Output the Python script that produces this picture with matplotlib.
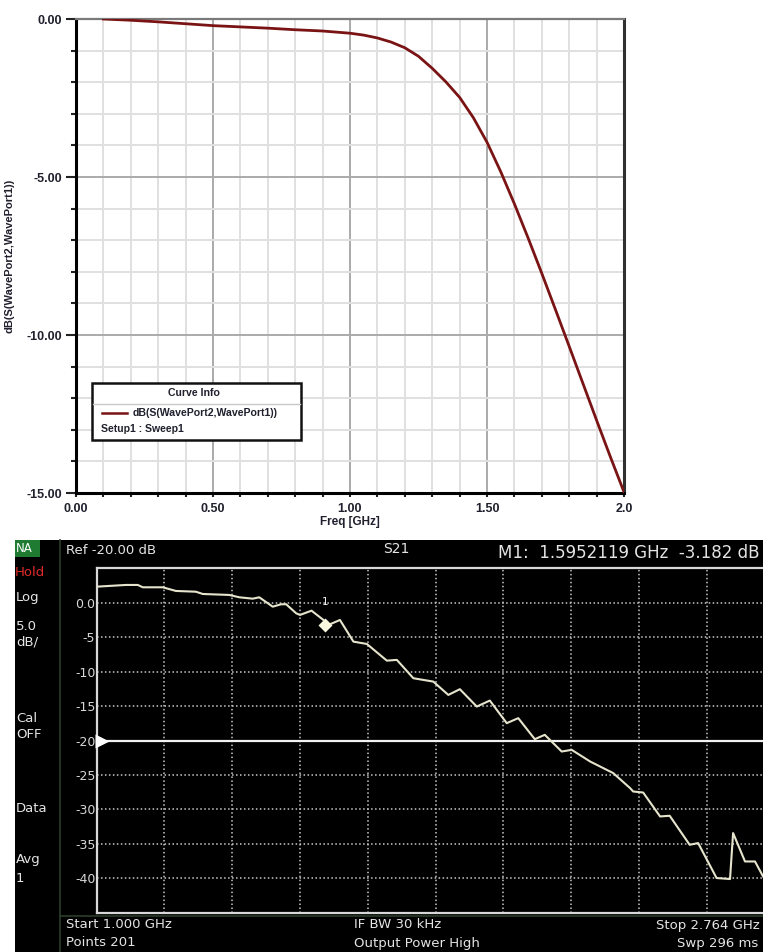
import matplotlib
matplotlib.use("Agg")
import matplotlib.pyplot as plt
import matplotlib.transforms as mtransforms
from matplotlib.patches import Rectangle
from matplotlib.lines import Line2D
import numpy as np

W, H = 763, 952

def fx(x):
    return x / W

def fy(y):
    return 1 - y / H

# simulated S21 (HFSS)
sim_freq = [0.10, 0.20, 0.30, 0.40, 0.50, 0.60, 0.70, 0.80, 0.90, 1.00,
            1.05, 1.10, 1.15, 1.20, 1.25, 1.30, 1.35, 1.40, 1.45, 1.50,
            1.55, 1.60, 1.65, 1.70, 1.75, 1.80, 1.85, 1.90, 1.95, 2.00]
sim_db = [0.00, -0.04, -0.09, -0.15, -0.21, -0.25, -0.29, -0.34, -0.38, -0.45,
          -0.51, -0.60, -0.73, -0.91, -1.18, -1.56, -1.99, -2.48, -3.12, -3.90,
          -4.83, -5.85, -6.93, -8.05, -9.20, -10.36, -11.53, -12.70, -13.85, -14.97]

# measured S21 (network analyzer)
meas_freq = [1.000, 1.076, 1.107, 1.120, 1.172, 1.206, 1.258, 1.276, 1.345, 1.371,
             1.406, 1.423, 1.458, 1.480, 1.493, 1.519, 1.529, 1.559, 1.590, 1.603,
             1.633, 1.668, 1.703, 1.755, 1.781, 1.824, 1.876, 1.915, 1.945, 1.989,
             2.023, 2.067, 2.097, 2.140, 2.166, 2.210, 2.236, 2.284, 2.344, 2.388,
             2.396, 2.422, 2.466, 2.491, 2.543, 2.565, 2.613, 2.648, 2.656, 2.687,
             2.713, 2.734]
meas_db = [2.32, 2.57, 2.57, 2.23, 2.23, 1.70, 1.59, 1.26, 1.12, 0.78,
           0.58, 0.78, -0.58, -0.23, -0.23, -1.54, -1.78, -1.16, -2.51, -3.23,
           -2.51, -5.65, -5.99, -8.41, -8.30, -10.96, -11.45, -13.38, -12.55, -15.07,
           -14.20, -17.48, -16.75, -19.80, -19.17, -21.59, -21.35, -23.04, -24.72, -26.90,
           -27.39, -27.54, -31.01, -30.91, -35.12, -34.87, -39.94, -40.09, -33.42, -37.54,
           -37.54, -39.71]

marker_freq = 1.5952119
marker_db = -3.182

sim_xticks = [0.0, 0.5, 1.0, 1.5, 2.0]
sim_xlabels = ["0.00", "0.50", "1.00", "1.50", "2.0"]
sim_yticks = [0, -5, -10, -15]

na_start, na_stop = 1.000, 2.764
na_yticks = [0, -5, -10, -15, -20, -25, -30, -35, -40]
na_ylabels = ["0.0", "-5", "-10", "-15", "-20", "-25", "-30", "-35", "-40"]

fig = plt.figure(figsize=(W / 100, H / 100), dpi=100)

# ---------------- top: simulation ----------------
hf = "Liberation Sans"
ink = "#20202e"
ax = fig.add_axes([fx(76), fy(493), (624 - 76) / W, (493 - 19) / H])
ax.plot(sim_freq, sim_db, color="#7a1414", lw=2.0, zorder=3)
ax.set_xlim(0, 2)
ax.set_ylim(-15, 0)
ax.set_xticks(sim_xticks)
ax.set_xticklabels(sim_xlabels)
ax.set_xticks(np.arange(0, 2.01, 0.1), minor=True)
ax.set_yticks(sim_yticks)
ax.set_yticklabels(["%.2f" % v for v in sim_yticks])
ax.set_yticks(np.arange(-15, 0.1, 1), minor=True)
ax.set_axisbelow(True)
ax.grid(which="minor", color="#e0e0e0", lw=1.4)
ax.grid(which="major", color="#aaaaaa", lw=1.4)
ax.tick_params(axis="y", which="major", length=7, width=1.5, pad=3, color="#222222")
ax.tick_params(axis="y", which="minor", length=3.5, width=1.5, color="#222222")
ax.tick_params(axis="x", which="both", length=3, width=1.5, pad=4, color="#222222")
for lab in ax.get_xticklabels() + ax.get_yticklabels():
    lab.set_fontfamily(hf)
    lab.set_fontweight("bold")
    lab.set_fontsize(9)
    lab.set_color(ink)
ax.spines["left"].set_linewidth(2.2)
ax.spines["bottom"].set_linewidth(2.2)
ax.spines["right"].set_linewidth(2.2)
ax.spines["right"].set_color("#303030")
ax.spines["top"].set_linewidth(1.6)
ax.spines["top"].set_color("#7a7a7a")
ax.set_xlabel("Freq [GHz]", fontfamily=hf, fontweight="bold", fontsize=8.5, color=ink)
ax.xaxis.set_label_coords(0.5, -0.048)
ax.set_ylabel("dB(S(WavePort2,WavePort1))", fontfamily=hf, fontweight="bold", fontsize=8, color=ink)
ax.yaxis.set_label_coords(-0.113, 0.5)

# legend box drawn by hand
fig.add_artist(Rectangle((fx(92), fy(440)), (301 - 92) / W, (440 - 383) / H,
                         transform=fig.transFigure, facecolor="white", edgecolor="#111111", lw=1.8, zorder=5))
fig.add_artist(Line2D([fx(93), fx(300)], [fy(404), fy(404)], transform=fig.transFigure,
                      color="#c8c8c8", lw=1.0, zorder=6))
fig.add_artist(Line2D([fx(102), fx(127)], [fy(413), fy(413)], transform=fig.transFigure,
                      color="#7a1414", lw=1.8, zorder=6))
fig.text(fx(194), fy(393), "Curve Info", ha="center", va="center", fontfamily=hf,
         fontweight="bold", fontsize=7.6, color=ink, zorder=7)
fig.text(fx(133), fy(413), "dB(S(WavePort2,WavePort1))", ha="left", va="center", fontfamily=hf,
         fontweight="bold", fontsize=7.6, color=ink, zorder=7)
fig.text(fx(101), fy(429), "Setup1 : Sweep1", ha="left", va="center", fontfamily=hf,
         fontweight="bold", fontsize=7.6, color=ink, zorder=7)

# ---------------- bottom: network analyzer screen ----------------
fig.add_artist(Rectangle((fx(15), 0), 1 - fx(15), fy(540), transform=fig.transFigure,
                         facecolor="black", edgecolor="none", zorder=0))
fig.add_artist(Line2D([fx(60), fx(60)], [0, fy(540)], transform=fig.transFigure,
                      color="#2c3d2c", lw=1.2, zorder=1))
fig.add_artist(Line2D([fx(60), 1], [fy(916), fy(916)], transform=fig.transFigure,
                      color="#2c3d2c", lw=1.2, zorder=1))

ax2 = fig.add_axes([fx(96.7), fy(912.9), 677.9 / W, 344.7 / H])
ax2.set_facecolor("black")
ax2.set_xlim(na_start, na_stop)
ax2.set_ylim(-45, 5)
ax2.set_xticks(np.linspace(na_start, na_stop, 11))
ax2.set_xticklabels([])
ax2.set_yticks(na_yticks)
ax2.set_yticklabels(na_ylabels)
ax2.grid(True, color="#c8c8c8", lw=1.1, ls=(0, (1, 1.6)))
ax2.tick_params(length=0, pad=1, labelsize=9, labelcolor="#d8d8d8")
for s in ax2.spines.values():
    s.set_color("#d8d8d8")
    s.set_linewidth(1.6)
ax2.axhline(-20, color="#f2f2f2", lw=1.6, zorder=3)
ax2.plot(meas_freq, meas_db, color="#e6e4cc", lw=1.5, zorder=4,
         solid_joinstyle="round")
ax2.plot([marker_freq], [marker_db], marker="D", ms=7, color="#fbf8e0", mec="none", zorder=5)
ax2.annotate("1", (marker_freq, marker_db), xytext=(0, 16), textcoords="offset points",
             ha="center", va="center", fontsize=7.5, color="#f0f0f0", zorder=5)
tri = ax2.get_yaxis_transform() + mtransforms.ScaledTranslation(4 / 72, 0, fig.dpi_scale_trans)
ax2.plot([0], [-20], marker=">", ms=10, color="white", mec="none", transform=tri, clip_on=False, zorder=6)

na = "DejaVu Sans"
txt = "#e4e4e4"
fs = 9.5
# header
fig.add_artist(Rectangle((fx(15), fy(557)), 25 / W, 17 / H, transform=fig.transFigure,
                         facecolor="#1f7a32", edgecolor="none", zorder=1))
fig.text(fx(16), fy(549), "NA", ha="left", va="center", fontfamily=na, fontsize=8.5, color="white")
fig.text(fx(66), fy(550), "Ref -20.00 dB", ha="left", va="center", fontfamily=na, fontsize=fs, color=txt)
fig.text(fx(383), fy(549), "S21", ha="left", va="center", fontfamily=na, fontsize=10, color=txt)
fig.text(fx(498), fy(553), "M1:  1.5952119 GHz  -3.182 dB", ha="left", va="center",
         fontfamily=na, fontsize=12.0, color=txt)

# left status column
fig.text(fx(15), fy(573), "Hold", ha="left", va="center", fontfamily=na, fontsize=fs, color="#e02a2a")
side = [("Log", 598), ("5.0", 627), ("dB/", 642), ("Cal", 718), ("OFF", 735),
        ("Data", 808), ("Avg", 860), ("1", 878)]
for s, yy in side:
    fig.text(fx(16), fy(yy), s, ha="left", va="center", fontfamily=na, fontsize=fs, color=txt)

# footer
fig.text(fx(66), fy(925), "Start 1.000 GHz", ha="left", va="center", fontfamily=na, fontsize=fs, color=txt)
fig.text(fx(66), fy(943), "Points 201", ha="left", va="center", fontfamily=na, fontsize=fs, color=txt)
fig.text(fx(354), fy(925), "IF BW 30 kHz", ha="left", va="center", fontfamily=na, fontsize=fs, color=txt)
fig.text(fx(354), fy(943), "Output Power High", ha="left", va="center", fontfamily=na, fontsize=fs, color=txt)
fig.text(fx(656), fy(925), "Stop 2.764 GHz", ha="left", va="center", fontfamily=na, fontsize=fs, color=txt)
fig.text(fx(677), fy(943), "Swp 296 ms", ha="left", va="center", fontfamily=na, fontsize=fs, color=txt)

fig.savefig("out.png", dpi=100, facecolor="white")
